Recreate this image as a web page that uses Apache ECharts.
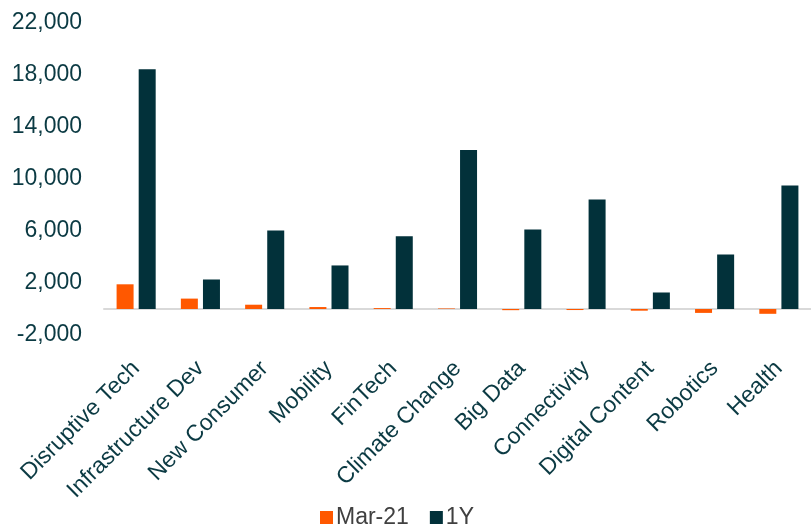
<!DOCTYPE html>
<html>
<head>
<meta charset="utf-8">
<script src="https://cdn.jsdelivr.net/npm/echarts@6/dist/echarts.min.js"></script>
<style>
    html, body { margin: 0; padding: 0; background: #fff; }
    #chart { width: 811px; height: 528px; }
</style>
</head>
<body>
<div id="chart"></div>
<script>
// 分类
var categories = ['Disruptive Tech', 'Infrastructure Dev', 'New Consumer', 'Mobility', 'FinTech',
    'Climate Change', 'Big Data', 'Connectivity', 'Digital Content', 'Robotics', 'Health'];
// 系列数据
var mar21 = [1900, 800, 330, 150, 70, 40, -90, -80, -130, -300, -370];
var oneYear = [18450, 2270, 6040, 3350, 5600, 12240, 6110, 8420, 1270, 4190, 9500];
// 刻度标签
var tickLabels = [-2000, 2000, 6000, 10000, 14000, 18000, 22000];

var textColor = '#0b3a43';
var myChart = echarts.init(document.getElementById('chart'));
myChart.setOption({
    animation: false,
    textStyle: { fontFamily: 'Liberation Sans, Arial, sans-serif' },
    grid: { left: 104, right: -5, top: 23, bottom: 193 },
    legend: {
        top: 501,
        left: 315,
        itemWidth: 13,
        itemHeight: 13,
        itemGap: 21,
        icon: 'rect',
        textStyle: { fontSize: 23, color: '#404040', padding: [0, 0, 0, -2] },
        data: ['Mar-21', '1Y']
    },
    xAxis: {
        type: 'category',
        data: categories,
        axisLine: { onZero: true, lineStyle: { color: '#d9d9d9', width: 2 } },
        axisTick: { show: false },
        axisLabel: {
            rotate: 45,
            interval: 0,
            fontSize: 23,
            color: textColor,
            margin: 30
        }
    },
    yAxis: {
        type: 'value',
        min: -2000,
        max: 22000,
        interval: 2000,
        splitLine: { show: false },
        axisLine: { show: false },
        axisTick: { show: false },
        axisLabel: {
            fontSize: 23,
            color: textColor,
            margin: 22,
            formatter: function (v) {
                if (tickLabels.indexOf(v) < 0) {
                    return '';
                }
                return v.toLocaleString('en-US');
            }
        }
    },
    series: [
        {
            name: 'Mar-21',
            type: 'bar',
            data: mar21,
            barWidth: 17,
            barGap: '30%',
            itemStyle: { color: '#ff5800' }
        },
        {
            name: '1Y',
            type: 'bar',
            data: oneYear,
            barWidth: 17,
            itemStyle: { color: '#02313a' }
        }
    ]
});
</script>
</body>
</html>
